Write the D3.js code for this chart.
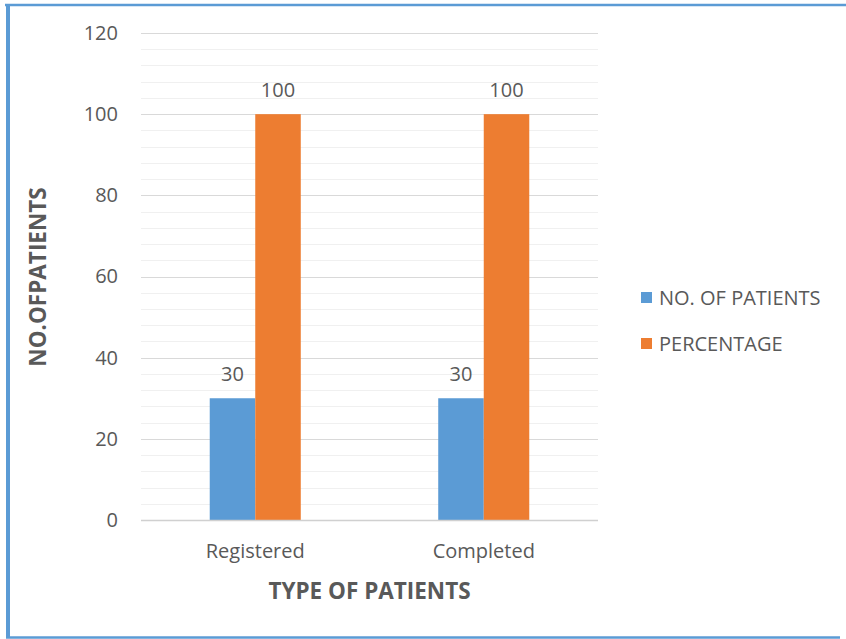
<!DOCTYPE html>
<html>
<head>
<meta charset="utf-8">
<script src="https://cdn.jsdelivr.net/npm/d3@7"></script>
<style>
  html, body { margin: 0; padding: 0; background: #fff; }
  svg { display: block; }
  text { font-family: "Open Sans", Lato, sans-serif; fill: #595959; }
</style>
</head>
<body>
<svg id="chart" width="846" height="639"></svg>
<script>
// Chart data
const categories = ["Registered", "Completed"];
const seriesNames = ["NO. OF PATIENTS", "PERCENTAGE"];
const patients = [30, 30];
const percentage = [100, 100];
const yTicks = [0, 20, 40, 60, 80, 100, 120];
const seriesColors = ["#5b9bd5", "#ed7d31"];

const svg = d3.select("#chart");
const FONT = "'Open Sans', Lato, sans-serif";
const labelSize = "20px";
const titleSize = "22.5px";

// Frame around the chart
svg.append("line").attr("x1", 5).attr("x2", 846).attr("y1", 5).attr("y2", 5)
  .attr("stroke", "#5b9bd5").attr("stroke-width", 2.5);
svg.append("line").attr("x1", 8).attr("x2", 8).attr("y1", 4).attr("y2", 638)
  .attr("stroke", "#5b9bd5").attr("stroke-width", 4);
svg.append("line").attr("x1", 6).attr("x2", 840).attr("y1", 637.5).attr("y2", 637.5)
  .attr("stroke", "#5b9bd5").attr("stroke-width", 2.5);

const plot = { left: 141, right: 598, top: 33, bottom: 520 };

const y = d3.scaleLinear().domain([0, 120]).range([plot.bottom, plot.top]);
const x0 = d3.scaleBand().domain(categories).range([plot.left, plot.right]).paddingInner(0).paddingOuter(0);
const x1 = d3.scaleBand().domain(seriesNames).range([0, x0.bandwidth()]).paddingInner(0).paddingOuter(1.51);

// Minor gridlines every 4 units
const minor = d3.range(0, 121, 4).filter(v => v % 20 !== 0);
svg.append("g").selectAll("line").data(minor).join("line")
  .attr("x1", plot.left).attr("x2", plot.right)
  .attr("y1", d => Math.round(y(d)) + 0.5).attr("y2", d => Math.round(y(d)) + 0.5)
  .attr("stroke", "#f0f0f0").attr("stroke-width", 1.2);

// Major gridlines
svg.append("g").selectAll("line").data(yTicks.filter(v => v > 0)).join("line")
  .attr("x1", plot.left).attr("x2", plot.right)
  .attr("y1", d => Math.round(y(d)) + 0.5).attr("y2", d => Math.round(y(d)) + 0.5)
  .attr("stroke", "#d9d9d9").attr("stroke-width", 1.2);

// Y axis labels
const yAxis = d3.axisLeft(y).tickValues(yTicks).tickSize(0).tickPadding(0);
const gy = svg.append("g").attr("transform", `translate(${plot.left - 23},0)`).call(yAxis);
gy.select(".domain").remove();
gy.selectAll("text").style("font-size", labelSize).attr("fill", "#595959")
  .style("font-family", FONT);

// Bars
const values = [patients, percentage];
const groups = svg.append("g").selectAll("g").data(categories).join("g")
  .attr("transform", d => `translate(${x0(d)},0)`);

groups.each(function (cat, ci) {
  const g = d3.select(this);
  seriesNames.forEach((s, si) => {
    const v = values[si][ci];
    g.append("rect")
      .attr("x", x1(s)).attr("width", x1.bandwidth())
      .attr("y", y(v)).attr("height", y(0) - y(v))
      .attr("fill", seriesColors[si]);
    g.append("text")
      .attr("x", x1(s) + x1.bandwidth() / 2).attr("y", y(v) - 17)
      .attr("text-anchor", "middle").style("font-size", labelSize)
      .text(v);
  });
});

// Baseline
svg.append("line").attr("x1", plot.left).attr("x2", plot.right)
  .attr("y1", y(0) + 0.5).attr("y2", y(0) + 0.5)
  .attr("stroke", "#d0d0d0").attr("stroke-width", 1.5);

// Category labels
const xAxis = d3.axisBottom(x0).tickSize(0).tickPadding(0);
const gx = svg.append("g").attr("transform", `translate(0,${plot.bottom + 38})`).call(xAxis);
gx.select(".domain").remove();
gx.selectAll("text").style("font-size", labelSize).attr("fill", "#595959").attr("dy", 0)
  .style("font-family", FONT);

// Axis titles
svg.append("text").attr("x", (plot.left + plot.right) / 2).attr("y", 599)
  .attr("text-anchor", "middle").style("font-size", titleSize).style("font-weight", "bold")
  .text("TYPE OF PATIENTS");
svg.append("text").attr("transform", `translate(46,277) rotate(-90)`)
  .attr("text-anchor", "middle").style("font-size", titleSize).style("font-weight", "bold")
  .text("NO.OFPATIENTS");

// Legend
const legend = svg.append("g").selectAll("g").data(seriesNames).join("g")
  .attr("transform", (d, i) => `translate(641,${292 + i * 46})`);
legend.append("rect").attr("width", 11).attr("height", 11)
  .attr("fill", (d, i) => seriesColors[i]);
legend.append("text").attr("x", 18).attr("y", 12.5).style("font-size", labelSize).text(d => d);
</script>
</body>
</html>
